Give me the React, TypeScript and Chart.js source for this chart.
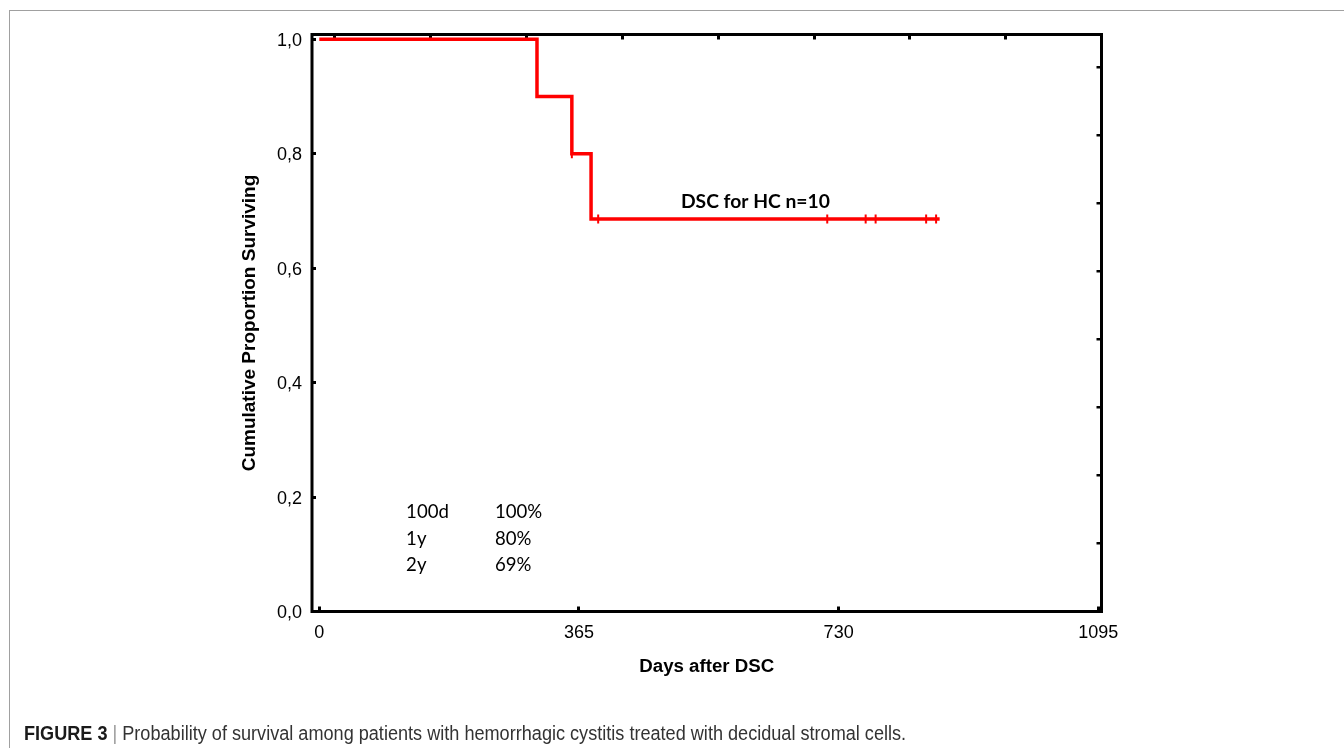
import React, { useEffect, useLayoutEffect, useRef, useState } from "react";
import { Chart, registerables } from "chart.js";

Chart.register(...registerables);

// ---- data ----
const stepDays = [0, 306, 355, 382, 872];
const stepSurvival = [1.0, 0.9, 0.8, 0.686, 0.686];
const censorDays = [355, 392, 714, 768, 782, 853, 867];
const censorSurvival = [0.8, 0.686, 0.686, 0.686, 0.686, 0.686, 0.686];
const xTickValues = [0, 365, 730, 1095];
const yTickValues = [0, 0.2, 0.4, 0.6, 0.8, 1.0];
const topTickValues = [1, 2, 3, 4, 5, 6, 7, 8];
const rightTickValues = [1, 2, 3, 4, 5, 6, 7, 8];
const seriesLabel = "DSC for HC n=10";
const milestoneNames = ["100d", "1y", "2y"];
const milestoneRates = ["100%", "80%", "69%"];
const xTitle = "Days after DSC";
const yTitle = "Cumulative Proportion Surviving";
const captionBold = "FIGURE 3";
const captionText = "Probability of survival among patients with hemorrhagic cystitis treated with decidual stromal cells.";

const AXIS_FONT = "'Liberation Sans', Arial, Helvetica, sans-serif";
const NOTE_FONT = "Lato, 'Open Sans', sans-serif";

const setTicks = (vals: number[]) => (scale: any) => {
  scale.ticks = vals.map((v) => ({ value: v }));
};

const framePlugin = {
  id: "frame",
  afterDatasetsDraw(chart: any) {
    const { ctx, chartArea: a } = chart;
    ctx.save();
    ctx.strokeStyle = "#000";
    ctx.lineWidth = 3;
    ctx.lineJoin = "miter";
    ctx.strokeRect(a.left, a.top, a.right - a.left, a.bottom - a.top);
    ctx.restore();
  },
};

const notesPlugin = {
  id: "notes",
  afterDatasetsDraw(chart: any) {
    const { ctx } = chart;
    const xs = chart.scales.x;
    const ys = chart.scales.y;
    ctx.save();
    ctx.fillStyle = "#000";
    ctx.textBaseline = "alphabetic";
    ctx.textAlign = "center";
    ctx.font = `bold 19.3px ${NOTE_FONT}`;
    ctx.fillText(seriesLabel, xs.getPixelForValue(613), ys.getPixelForValue(0.686) - 10.5);
    ctx.textAlign = "left";
    ctx.font = `18.6px ${NOTE_FONT}`;
    const rowY = [0.164, 0.117, 0.071];
    milestoneNames.forEach((n, i) => {
      const y = ys.getPixelForValue(rowY[i]);
      ctx.fillText(n, xs.getPixelForValue(122), y);
      ctx.fillText(milestoneRates[i], xs.getPixelForValue(247), y);
    });
    ctx.restore();
  },
};

function Caption() {
  const ref = useRef<HTMLDivElement>(null);
  const [sx, setSx] = useState(1);
  useLayoutEffect(() => {
    if (ref.current) {
      const w = ref.current.offsetWidth;
      if (w > 0) setSx(882 / w);
    }
  }, []);
  return (
    <div
      ref={ref}
      style={{
        position: "absolute",
        left: 24,
        top: 721,
        whiteSpace: "nowrap",
        fontFamily: AXIS_FONT,
        fontSize: 19.5,
        lineHeight: "24px",
        color: "#333",
        transform: `scaleX(${sx})`,
        transformOrigin: "0 0",
      }}
    >
      <b style={{ color: "#1a1a1a" }}>{captionBold}</b>
      <span style={{ color: "#999" }}> | </span>
      {captionText}
    </div>
  );
}

export default function App() {
  const canvasRef = useRef<HTMLCanvasElement>(null);

  useEffect(() => {
    if (!canvasRef.current) return;
    const chart = new Chart(canvasRef.current, {
      type: "line",
      data: {
        datasets: [
          {
            type: "line",
            label: seriesLabel,
            data: stepDays.map((d, i) => ({ x: d, y: stepSurvival[i] })),
            stepped: "before",
            borderColor: "#ff0000",
            borderWidth: 3.5,
            pointRadius: 0,
            fill: false,
            xAxisID: "x",
            yAxisID: "y",
          } as any,
          {
            type: "scatter",
            label: "censored",
            data: censorDays.map((d, i) => ({ x: d, y: censorSurvival[i] })),
            pointStyle: "line",
            rotation: 90,
            pointRadius: 4.5,
            pointBorderWidth: 2,
            borderColor: "#ff0000",
            backgroundColor: "#ff0000",
            showLine: false,
            xAxisID: "x",
            yAxisID: "y",
          } as any,
        ],
      },
      options: {
        responsive: false,
        animation: false,
        events: [],
        layout: { padding: 0 },
        plugins: { legend: { display: false }, tooltip: { enabled: false } },
        scales: {
          x: {
            type: "linear",
            position: "bottom",
            min: -10.26,
            max: 1099.5,
            afterBuildTicks: setTicks(xTickValues),
            afterFit: (s: any) => {
              s.height = 136.5;
            },
            grid: { drawOnChartArea: false, drawTicks: true, tickLength: -5, lineWidth: 3, tickWidth: 3, tickColor: "#000" },
            border: { display: false },
            ticks: {
              autoSkip: false,
              maxRotation: 0,
              padding: 16,
              color: "#000",
              font: { family: AXIS_FONT, size: 18 },
              callback: (v: any) => String(v),
            },
            title: {
              display: true,
              text: xTitle,
              color: "#000",
              font: { family: AXIS_FONT, size: 18.7, weight: "bold" },
              padding: { top: 0, bottom: 70 },
            },
          },
          y: {
            type: "linear",
            position: "left",
            min: 0,
            max: 1.0084,
            afterBuildTicks: setTicks(yTickValues),
            afterFit: (s: any) => {
              s.width = 312;
            },
            grid: { drawOnChartArea: false, drawTicks: true, tickLength: -4, lineWidth: 3, tickWidth: 3, tickColor: "#000" },
            border: { display: false },
            ticks: {
              autoSkip: false,
              padding: 14,
              labelOffset: 1.5,
              color: "#000",
              font: { family: AXIS_FONT, size: 18 },
              callback: (v: any) => Number(v).toFixed(1).replace(".", ","),
            },
            title: {
              display: true,
              text: yTitle,
              color: "#000",
              font: { family: AXIS_FONT, size: 19, weight: "bold" },
              padding: { top: 238.6, bottom: 0 },
            },
          },
          x2: {
            type: "linear",
            position: "top",
            min: 0.76,
            max: 9.0,
            afterBuildTicks: setTicks(topTickValues),
            afterFit: (s: any) => {
              s.height = 34.5;
            },
            grid: { drawOnChartArea: false, drawTicks: true, tickLength: -5, lineWidth: 3, tickWidth: 3, tickColor: "#000" },
            border: { display: false },
            ticks: { display: false },
          },
          y2: {
            type: "linear",
            position: "right",
            min: 0,
            max: 8.485,
            afterBuildTicks: setTicks(rightTickValues),
            afterFit: (s: any) => {
              s.width = 242.5;
            },
            grid: { drawOnChartArea: false, drawTicks: true, tickLength: -5, lineWidth: 2.5, tickWidth: 2.5, tickColor: "#000" },
            border: { display: false },
            ticks: { display: false },
          },
        },
      } as any,
      plugins: [framePlugin, notesPlugin],
    });
    return () => chart.destroy();
  }, []);

  return (
    <>
      <div
        style={{
          position: "absolute",
          left: 9,
          top: 10,
          width: 1335,
          height: 738,
          borderLeft: "1px solid #a0a0a0",
          borderTop: "1px solid #a0a0a0",
          boxSizing: "border-box",
        }}
      />
      <canvas
        ref={canvasRef}
        width={1344}
        height={748}
        style={{ position: "absolute", left: 0, top: 0, width: 1344, height: 748 }}
      />
      <Caption />
    </>
  );
}
